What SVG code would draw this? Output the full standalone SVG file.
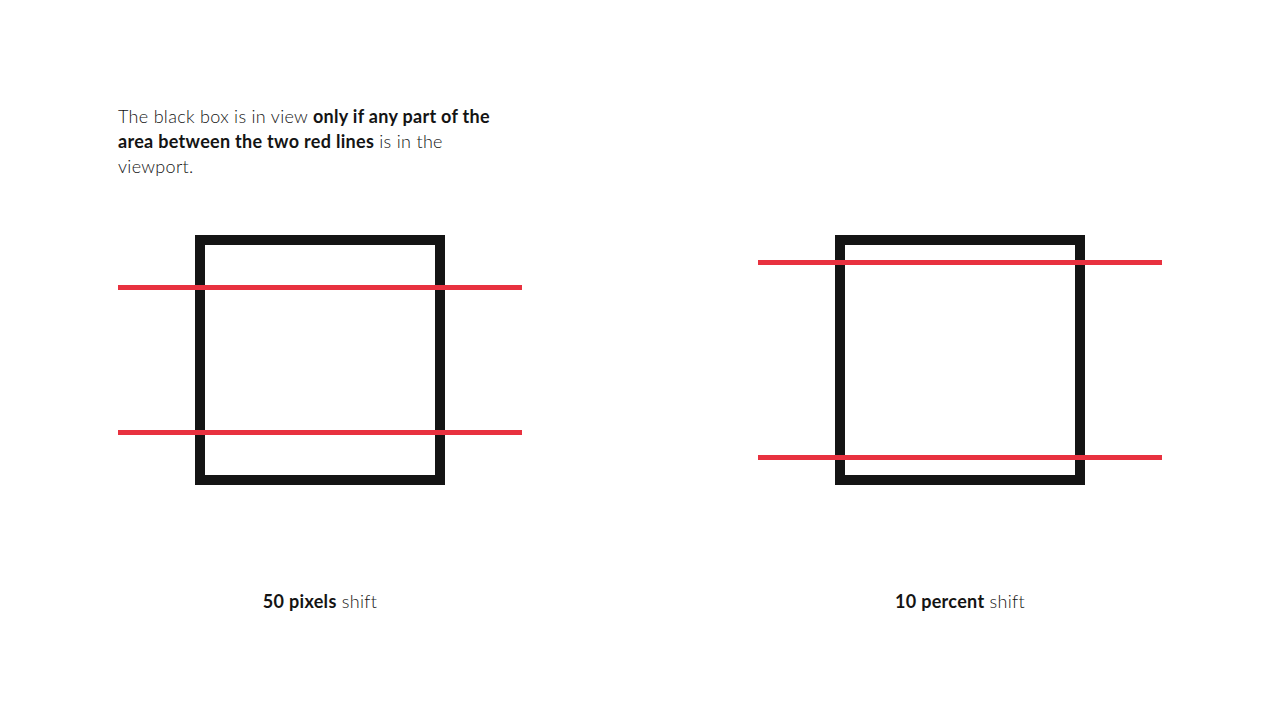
<svg xmlns="http://www.w3.org/2000/svg" width="1280" height="720" viewBox="0 0 1280 720">
<style>
text{font-family:Lato,"Noto Sans","Liberation Sans",sans-serif;font-size:18px;letter-spacing:0.3px;fill:#141414;font-weight:300}
.b{font-weight:700}
.box{fill:none;stroke:#141414;stroke-width:10}
.red{stroke:#e8313f;stroke-width:5}
</style>
<rect width="1280" height="720" fill="#fff"/>
<g id="intro">
<text x="118" y="123">The black box is in view <tspan class="b">only if any part of the</tspan></text>
<text x="118" y="148"><tspan class="b">area between the two red lines</tspan> is in the</text>
<text x="118" y="173">viewport.</text>
</g>
<g id="box-left"><rect class="box" x="200" y="240" width="240" height="240"/></g>
<g id="box-right"><rect class="box" x="840" y="240" width="240" height="240"/></g>
<g id="connectors">
<line class="red" x1="118" y1="287.5" x2="522" y2="287.5"/>
<line class="red" x1="118" y1="432.5" x2="522" y2="432.5"/>
<line class="red" x1="758" y1="262.5" x2="1162" y2="262.5"/>
<line class="red" x1="758" y1="457.5" x2="1162" y2="457.5"/>
</g>
<g id="label-left"><text x="320" y="608" text-anchor="middle"><tspan class="b">50 pixels</tspan> shift</text></g>
<g id="label-right"><text x="960" y="608" text-anchor="middle"><tspan class="b">10 percent</tspan> shift</text></g>
</svg>
